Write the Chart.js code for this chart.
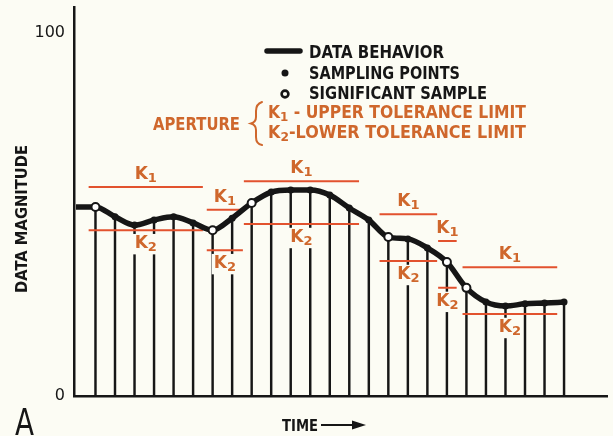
<!DOCTYPE html>
<html>
<head>
<meta charset="utf-8">
<script src="https://cdn.jsdelivr.net/npm/chart.js@4.4.1/dist/chart.umd.min.js"></script>
<style>
  html, body { margin: 0; padding: 0; background: #fcfcf4; overflow: hidden; }
  canvas { display: block; }
</style>
</head>
<body>
<canvas id="chart" width="613" height="436"></canvas>
<script>
// Sample instants (time index) and the signal magnitude at each instant
const time = [0, 1, 2, 3, 4, 5, 6, 7, 8, 9, 10, 11, 12, 13, 14, 15, 16, 17, 18, 19, 20, 21, 22, 23, 24, 25];
const magnitude = [52.1, 52.1, 49.4, 47.1, 48.5, 49.4, 47.7, 45.7, 49.0, 53.2, 56.2, 56.8, 56.8, 55.4, 51.8,
                   48.5, 43.8, 43.3, 40.8, 36.9, 29.8, 25.9, 24.8, 25.4, 25.6, 25.9];

// Samples that fell outside the current aperture (sent as significant)
const significant = [1, 7, 9, 16, 19, 20];

// Aperture opened at each significant sample: time span and tolerance limits
const apertureStart = [0.65, 6.7, 8.6, 15.55, 18.55, 19.8];
const apertureEnd   = [6.5, 8.55, 14.5, 18.5, 19.5, 24.65];
const upperLimit    = [57.6, 51.3, 59.2, 50.1, 42.7, 35.5];  // K1
const lowerLimit    = [45.7, 40.2, 47.4, 37.2, 29.8, 22.6];  // K2

const yTicks = [0, 100];

const INK = '#161616';
const RUST = '#cf672c';
const RED = '#e2522e';
const PAPER = '#fcfcf4';
const FONT = '"DejaVu Sans", "Liberation Sans", sans-serif';

Chart.defaults.font.family = FONT;

// Curve, sampling stems and markers
const curve = time.map((t, i) => ({ x: t, y: magnitude[i] }));
const samples = time.slice(1).map((t, i) => ({ x: t, y: magnitude[i + 1] }));
const sigPoints = significant.map(i => ({ x: time[i], y: magnitude[i] }));

// Tolerance limit segments, broken between apertures
function segments(levels) {
  const out = [];
  levels.forEach((v, k) => {
    out.push({ x: apertureStart[k], y: v }, { x: apertureEnd[k], y: v }, { x: apertureEnd[k], y: null });
  });
  return out;
}

// Text made of runs (for subscripts), optionally squeezed to a given width; y is the cap-height centre
function drawRuns(ctx, runs, x, yMid, o) {
  ctx.save();
  let w = 0;
  runs.forEach(r => {
    ctx.font = `${r.weight || o.weight || 'normal'} ${r.size}px ${FONT}`;
    r._w = ctx.measureText(r.t).width;
    w += r._w;
  });
  const sx = o.width ? o.width / w : 1;
  const tw = w * sx;
  const x0 = o.align === 'center' ? x - tw / 2 : (o.align === 'right' ? x - tw : x);
  const cap = runs[0].size * 0.73;
  if (o.bg) {
    ctx.fillStyle = o.bg;
    ctx.fillRect(x0 - 2, yMid - cap / 2 - 2, tw + 4, cap + 8);
  }
  ctx.translate(x0, yMid + cap / 2);
  ctx.scale(sx, 1);
  ctx.fillStyle = o.color;
  ctx.textBaseline = 'alphabetic';
  ctx.textAlign = 'left';
  let cx = 0;
  runs.forEach(r => {
    ctx.font = `${r.weight || o.weight || 'normal'} ${r.size}px ${FONT}`;
    ctx.fillText(r.t, cx, r.dy || 0);
    cx += r._w;
  });
  ctx.restore();
}

const kRuns = (n) => [{ t: 'K', size: 17 }, { t: String(n), size: 13, dy: 3 }];

const decorations = {
  id: 'decorations',
  beforeDraw(chart) {
    const ctx = chart.ctx;
    ctx.save();
    ctx.fillStyle = PAPER;
    ctx.fillRect(0, 0, chart.width, chart.height);
    ctx.restore();
  },
  afterDatasetsDraw(chart) {
    const ctx = chart.ctx;
    const xs = chart.scales.x, ys = chart.scales.y;
    // K1 / K2 labels on each aperture
    apertureStart.forEach((s, k) => {
      const cx = xs.getPixelForValue((s + apertureEnd[k]) / 2);
      drawRuns(ctx, kRuns(1), cx, ys.getPixelForValue(upperLimit[k]) - 14,
               { align: 'center', color: RUST, bg: PAPER, weight: 'bold' });
      drawRuns(ctx, kRuns(2), cx, ys.getPixelForValue(lowerLimit[k]) + 12,
               { align: 'center', color: RUST, bg: PAPER, weight: 'bold' });
    });
  },
  afterDraw(chart) {
    const ctx = chart.ctx;
    ctx.save();

    // Key
    ctx.strokeStyle = INK;
    ctx.lineWidth = 5.5;
    ctx.lineCap = 'round';
    ctx.beginPath();
    ctx.moveTo(267, 51);
    ctx.lineTo(300, 51);
    ctx.stroke();

    ctx.fillStyle = INK;
    ctx.beginPath();
    ctx.arc(285, 73, 3.5, 0, Math.PI * 2);
    ctx.fill();

    ctx.lineWidth = 2.6;
    ctx.beginPath();
    ctx.arc(285, 94, 3.4, 0, Math.PI * 2);
    ctx.stroke();

    const B = { weight: 'bold' };
    drawRuns(ctx, [{ t: 'DATA BEHAVIOR', size: 17 }], 309, 51.5, { ...B, width: 135, color: INK });
    drawRuns(ctx, [{ t: 'SAMPLING POINTS', size: 17 }], 309, 73, { ...B, width: 151, color: INK });
    drawRuns(ctx, [{ t: 'SIGNIFICANT SAMPLE', size: 17 }], 309, 93, { ...B, width: 178, color: INK });

    drawRuns(ctx, [{ t: 'APERTURE', size: 17 }], 153, 124, { ...B, width: 87, color: RUST });
    drawRuns(ctx, [{ t: 'K', size: 17 }, { t: '1', size: 13, dy: 3 }, { t: ' - UPPER TOLERANCE LIMIT', size: 17 }],
             268, 111.5, { ...B, width: 258, color: RUST });
    drawRuns(ctx, [{ t: 'K', size: 17 }, { t: '2', size: 13, dy: 3 }, { t: '-LOWER TOLERANCE LIMIT', size: 17 }],
             268, 131.5, { ...B, width: 258, color: RUST });

    // Brace grouping the two limits
    ctx.strokeStyle = RUST;
    ctx.lineWidth = 2;
    ctx.lineCap = 'round';
    ctx.beginPath();
    ctx.moveTo(262, 102);
    ctx.quadraticCurveTo(256, 104, 256, 111);
    ctx.lineTo(256, 117);
    ctx.quadraticCurveTo(256, 122, 251, 123.5);
    ctx.quadraticCurveTo(256, 125, 256, 130);
    ctx.lineTo(256, 137);
    ctx.quadraticCurveTo(256, 144, 262, 145);
    ctx.stroke();

    // Axis titles
    ctx.save();
    ctx.translate(21, 219);
    ctx.rotate(-Math.PI / 2);
    drawRuns(ctx, [{ t: 'DATA MAGNITUDE', size: 16 }], 0, 0, { ...B, align: 'center', width: 148, color: INK });
    ctx.restore();

    drawRuns(ctx, [{ t: 'TIME', size: 16 }], 282, 425, { ...B, width: 36, color: INK });
    ctx.strokeStyle = INK;
    ctx.lineWidth = 2;
    ctx.lineCap = 'butt';
    ctx.beginPath();
    ctx.moveTo(321, 425);
    ctx.lineTo(355, 425);
    ctx.stroke();
    ctx.fillStyle = INK;
    ctx.beginPath();
    ctx.moveTo(352, 420.5);
    ctx.lineTo(366, 425);
    ctx.lineTo(352, 429.5);
    ctx.closePath();
    ctx.fill();

    // Panel letter
    drawRuns(ctx, [{ t: 'A', size: 37 }], 15, 421.5, { width: 19, color: INK });

    ctx.restore();
  }
};

new Chart(document.getElementById('chart'), {
  type: 'bar',
  data: {
    datasets: [
      {
        type: 'scatter', label: 'Significant sample', data: sigPoints,
        pointRadius: 4, pointBackgroundColor: '#ffffff', pointBorderColor: INK, pointBorderWidth: 2,
        showLine: false, order: 0
      },
      {
        type: 'scatter', label: 'Sampling points', data: samples,
        pointRadius: 3.5, pointBackgroundColor: INK, pointBorderWidth: 0,
        showLine: false, order: 1
      },
      {
        type: 'line', label: 'Data behavior', data: curve,
        borderColor: INK, borderWidth: 5.5, pointRadius: 0,
        cubicInterpolationMode: 'monotone', order: 2
      },
      {
        type: 'line', label: 'K1', data: segments(upperLimit),
        borderColor: RED, borderWidth: 2, pointRadius: 0, spanGaps: false, order: 3
      },
      {
        type: 'line', label: 'K2', data: segments(lowerLimit),
        borderColor: RED, borderWidth: 2, pointRadius: 0, spanGaps: false, order: 3
      },
      {
        type: 'bar', label: 'Samples', data: samples,
        backgroundColor: INK, barThickness: 1.8, order: 4
      }
    ]
  },
  options: {
    responsive: false,
    animation: false,
    devicePixelRatio: 1,
    layout: { padding: { top: 7, right: 0, bottom: 0, left: 0 } },
    plugins: { legend: { display: false }, tooltip: { enabled: false } },
    scales: {
      x: {
        type: 'linear', min: -0.1, max: 27.2, offset: false,
        grid: { display: false, drawTicks: false },
        border: { display: true, color: INK, width: 2.5 },
        ticks: { display: false },
        afterFit: s => { s.height = 40; s.paddingLeft = 0; s.paddingRight = 0; }
      },
      y: {
        type: 'linear', min: 0, max: 107.2,
        grid: { display: false, drawTicks: false },
        border: { display: true, color: INK, width: 2.5 },
        ticks: { padding: 9, color: INK, font: { size: 16 } },
        afterBuildTicks: s => { s.ticks = yTicks.map(v => ({ value: v })); },
        afterFit: s => { s.width = 74; s.paddingTop = 0; s.paddingBottom = 0; }
      }
    }
  },
  plugins: [decorations]
});
</script>
</body>
</html>
